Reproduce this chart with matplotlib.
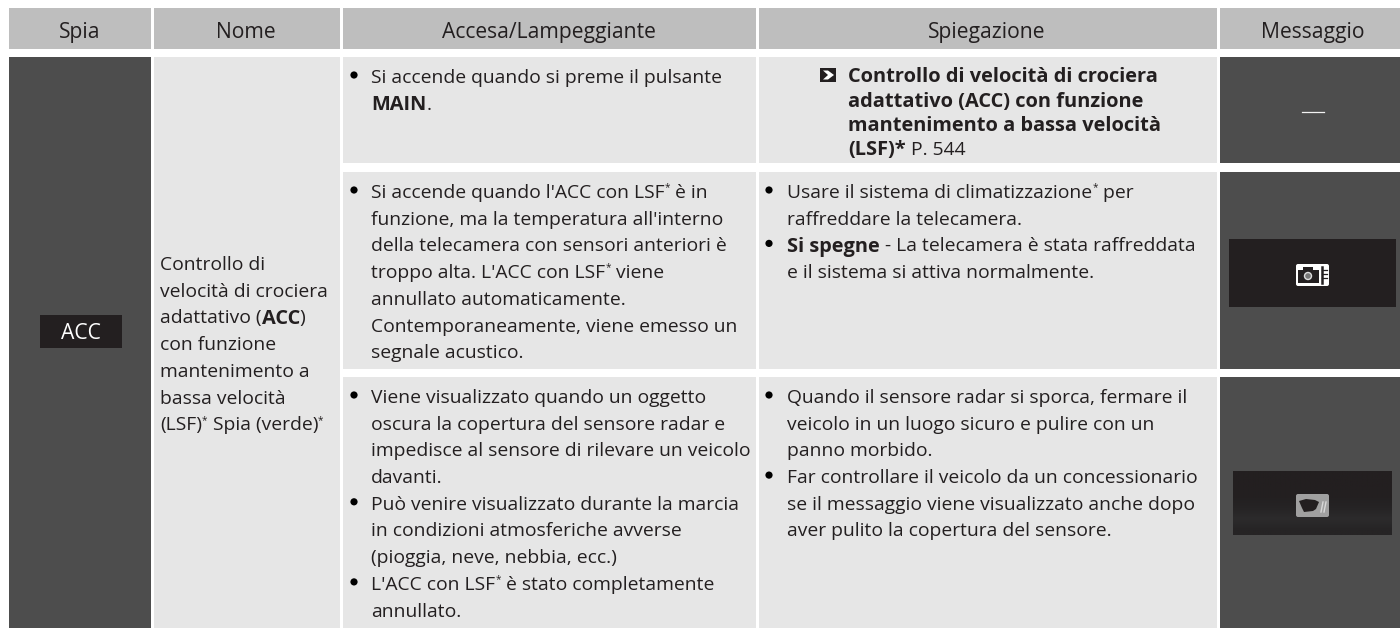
import re
import numpy as np
import matplotlib
matplotlib.use("Agg")
import matplotlib.pyplot as plt
from matplotlib.patches import Rectangle, FancyBboxPatch, Polygon, Circle

plt.rcParams['font.family'] = ['Open Sans', 'DejaVu Sans']

# Testi della tabella: **grassetto**, ^ = asterisco in apice, "• " = punto elenco
headers = ["Spia", "Nome", "Accesa/Lampeggiante", "Spiegazione", "Messaggio"]
spia_label = "ACC"
nome_lines = ["Controllo di", "velocità di crociera", "adattativo (**ACC**)", "con funzione",
              "mantenimento a", "bassa velocità", "(LSF)^ Spia (verde)^"]
accesa_1 = ["• Si accende quando si preme il pulsante", "**MAIN**."]
accesa_2 = ["• Si accende quando l'ACC con LSF^ è in", "funzione, ma la temperatura all'interno",
            "della telecamera con sensori anteriori è", "troppo alta. L'ACC con LSF^ viene",
            "annullato automaticamente.", "Contemporaneamente, viene emesso un",
            "segnale acustico."]
accesa_3 = ["• Viene visualizzato quando un oggetto", "oscura la copertura del sensore radar e",
            "impedisce al sensore di rilevare un veicolo", "davanti.",
            "• Può venire visualizzato durante la marcia", "in condizioni atmosferiche avverse",
            "(pioggia, neve, nebbia, ecc.)", "• L'ACC con LSF^ è stato completamente",
            "annullato."]
spieg_1 = ["**Controllo di velocità di crociera**", "**adattativo (ACC) con funzione**",
           "**mantenimento a bassa velocità**", "**(LSF)*** P. 544"]
spieg_2 = ["• Usare il sistema di climatizzazione^ per", "raffreddare la telecamera.",
           "• **Si spegne** - La telecamera è stata raffreddata", "e il sistema si attiva normalmente."]
spieg_3 = ["• Quando il sensore radar si sporca, fermare il", "veicolo in un luogo sicuro e pulire con un",
           "panno morbido.", "• Far controllare il veicolo da un concessionario",
           "se il messaggio viene visualizzato anche dopo", "aver pulito la copertura del sensore."]

HEAD = "#bebebe"
DARK = "#4d4d4d"
LIGHT = "#e6e6e6"
BLACK = "#231f20"
FS = 13.9
FS_BOLD = 14.4
FS_HEAD = 15.2

fig = plt.figure(figsize=(14, 6.28), dpi=100)
ax = fig.add_axes([0, 0, 1, 1])
ax.set_xlim(0, 1400)
ax.set_ylim(628, 0)
ax.axis("off")


def box(x0, x1, y0, y1, color):
    ax.add_patch(Rectangle((x0, y0), x1 - x0, y1 - y0, fc=color, ec="none"))


def rich_line(x, y, line, color=BLACK):
    # scrive una riga a pezzi, misurando la larghezza di ogni pezzo
    rend = fig.canvas.get_renderer()
    for part in re.split(r"(\*\*.*?\*\*\*?|\^)", line):
        if not part:
            continue
        if part == "^":
            t = ax.text(x, y - 3, "*", fontsize=FS * 0.52, color=color, va="center", ha="left")
        elif part.startswith("**"):
            t = ax.text(x, y, part.strip("*") + ("*" if part.endswith("***") else ""), fontsize=FS_BOLD,
                        color=color, va="center_baseline", ha="left", fontweight="bold")
        else:
            t = ax.text(x, y, part, fontsize=FS, color=color, va="center_baseline", ha="left")
        x = ax.transData.inverted().transform(t.get_window_extent(rend).p1)[0]
    return x


def block(x, y, lines, pitch=26.7, bullet_x=None):
    for i, line in enumerate(lines):
        yy = y + i * pitch
        if line.startswith("• "):
            ax.add_patch(Circle((bullet_x, yy - 1), 3.6, fc="black", ec="none"))
            line = line[2:]
        rich_line(x, yy, line)


# intestazione
cols = [(9, 151), (154, 340), (343, 756), (759, 1217), (1220, 1400)]
head_x = [80, 246, 549, 987, 1313]
for (x0, x1), name, cx in zip(cols, headers, head_x):
    box(x0, x1, 8, 49, HEAD)
    ax.text(cx, 30, name, fontsize=FS_HEAD, color=BLACK, ha="center", va="center_baseline")

# celle
box(9, 151, 57, 628, DARK)
box(154, 340, 57, 628, LIGHT)
rows = [(57, 163), (172, 369), (377, 628)]
for y0, y1 in rows:
    box(343, 756, y0, y1, LIGHT)
    box(759, 1217, y0, y1, LIGHT)
    box(1220, 1400, y0, y1, DARK)

# spia ACC
box(40, 122, 315, 348, BLACK)
ax.text(81, 331, spia_label, fontsize=FS_HEAD, color="white", ha="center", va="center_baseline")

block(160, 263, nome_lines)
block(371, 76, accesa_1, bullet_x=354)
block(371, 191, accesa_2, bullet_x=354)
block(371, 396, accesa_3, bullet_x=354)
block(848, 75, spieg_1, pitch=24.2)
block(787, 191, spieg_2, bullet_x=769)
block(787, 396, spieg_3, bullet_x=769)

# freccia del rimando
box(820, 836, 68, 82, BLACK)
ax.add_patch(Polygon([(823, 70.5), (828, 70.5), (834, 75), (828, 79.5), (823, 79.5), (828, 75)], fc="white", ec="none"))

# messaggi
ax.plot([1302, 1324], [112, 112], color="#f2f2f2", lw=0.9)

box(1229, 1396, 239, 307, BLACK)
ax.add_patch(FancyBboxPatch((1296, 264), 33, 22, boxstyle="round,pad=0,rounding_size=2", fc="white", ec="none"))
ax.add_patch(Rectangle((1298, 270), 21, 13, fc=BLACK, ec="none"))
ax.add_patch(Rectangle((1303, 267), 10, 4, fc=BLACK, ec="none"))
ax.add_patch(Circle((1308, 276), 3.5, fc="#777777", ec="#dddddd", lw=1))
ax.plot([1322, 1322], [267, 283], color=BLACK, lw=1.8)
ax.plot([1322, 1327], [270, 270], color=BLACK, lw=0.9)
ax.plot([1322, 1327], [274, 274], color=BLACK, lw=0.9)
ax.plot([1322, 1327], [278, 278], color=BLACK, lw=0.9)

grad = np.array([[35, 31, 32], [35, 31, 32], [35, 32, 33], [38, 36, 37], [44, 43, 44], [38, 36, 37]]) / 255
ax.imshow(grad[:, None, :], extent=(1233, 1392, 535, 471), aspect="auto", interpolation="bilinear", zorder=1)
ax.set_xlim(0, 1400)
ax.set_ylim(628, 0)
ax.add_patch(FancyBboxPatch((1296, 494), 33, 23, boxstyle="round,pad=0,rounding_size=2", fc="#a0a0a0", ec="none", zorder=2))
ax.add_patch(Polygon([(1299, 501), (1306, 499), (1315, 500), (1319, 502), (1316, 509), (1313, 511), (1304, 512), (1302, 508)],
                     fc=BLACK, ec="none", zorder=3))
ax.plot([1321, 1323], [512, 502], color="#d8d8d8", lw=1, zorder=3)
ax.plot([1324, 1326], [512, 502], color="#d8d8d8", lw=1, zorder=3)

fig.savefig("out.png", dpi=100)
